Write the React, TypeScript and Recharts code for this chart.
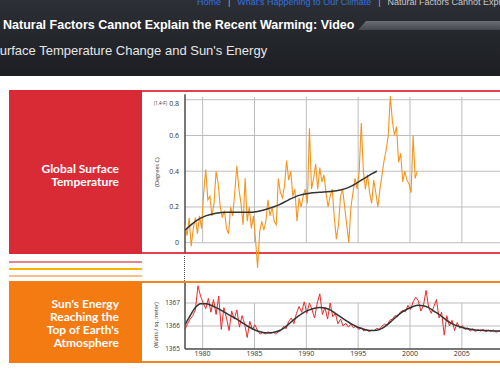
import { LineChart, Line, XAxis, YAxis, ReferenceLine } from "recharts";

// shared x axis (years)
const gridYears = [1980, 1985, 1990, 1995, 2000, 2005, 2010];
const tempTicks = [0, 0.2, 0.4, 0.6, 0.8];
const sunTicks = [1365, 1366, 1367];

// global surface temperature anomaly (deg C), one value every 0.2 yr from 1978.3
const tempStart = 1978.3;
const tempStep = 0.2;
const tempAnomaly = [
  0.10, 0.04, 0.14, -0.02, 0.08, 0.14, 0.05, 0.15, 0.08, 0.28,
  0.41, 0.24, 0.26, 0.15, 0.22, 0.40, 0.33, 0.20, 0.14, 0.18,
  0.08, 0.05, 0.20, 0.15, 0.28, 0.43, 0.30, 0.22, 0.10, 0.36,
  0.12, 0.20, 0.08, 0.15, 0.02, -0.14, 0.06, 0.12, 0.07, 0.12,
  0.24, 0.15, 0.20, 0.12, 0.10, 0.36, 0.28, 0.25, 0.32, 0.46,
  0.35, 0.40, 0.26, 0.30, 0.12, 0.25, 0.20, 0.26, 0.30, 0.22,
  0.64, 0.30, 0.36, 0.44, 0.30, 0.42, 0.34, 0.38, 0.28, 0.20,
  0.26, 0.30, 0.14, 0.02, 0.10, 0.26, 0.30, 0.20, 0.10, 0.00,
  0.20, 0.28, 0.36, 0.30, 0.40, 0.67, 0.40, 0.30, 0.38, 0.28,
  0.22, 0.35, 0.28, 0.20, 0.30, 0.38, 0.46, 0.52, 0.60, 0.82,
  0.68, 0.60, 0.65, 0.45, 0.50, 0.34, 0.40, 0.35, 0.33, 0.28,
  0.60, 0.36, 0.40,
];

// smoothed temperature trend
const tempTrendYears = [
  1978.3, 1979.3, 1980.3, 1981.3, 1982.3, 1983.3, 1984.3, 1985.3, 1986.3, 1987.3,
  1988.3, 1989.3, 1990.3, 1991.3, 1992.3, 1993.3, 1994.3, 1995.3, 1996.3, 1996.8,
];
const tempTrend = [
  0.07, 0.12, 0.15, 0.165, 0.17, 0.17, 0.17, 0.175, 0.19, 0.21,
  0.24, 0.265, 0.277, 0.282, 0.286, 0.295, 0.315, 0.35, 0.385, 0.40,
];

// total solar irradiance (W/m2), one value every 0.25 yr from 1978.3
const sunStart = 1978.3;
const sunStep = 0.25;
const sunIrradiance = [
  1365.85, 1366.1, 1366.3, 1366.45, 1366.7, 1367.75, 1367.3, 1367.0, 1366.75, 1367.2,
  1366.6, 1367.15, 1366.5, 1367.3, 1365.85, 1366.8, 1366.35, 1365.8, 1366.65, 1366.3,
  1366.7, 1365.95, 1366.45, 1366.1, 1365.5, 1366.2, 1365.85, 1366.05, 1365.8, 1365.65,
  1365.72, 1365.65, 1365.75, 1365.68, 1365.73, 1365.66, 1365.74, 1365.8, 1365.98, 1365.88,
  1366.2, 1366.35, 1366.1, 1366.55, 1366.85, 1366.6, 1367.05, 1366.55, 1367.0, 1366.7,
  1366.35, 1367.0, 1367.4, 1366.5, 1366.8, 1366.3, 1367.0, 1366.4, 1366.55, 1366.1,
  1366.3, 1366.0, 1366.12, 1365.95, 1366.08, 1365.92, 1366.0, 1365.85, 1365.92, 1365.78,
  1365.85, 1365.76, 1365.82, 1365.8, 1365.9, 1365.85, 1366.0, 1366.08, 1366.05, 1366.25,
  1366.3, 1366.45, 1366.4, 1366.6, 1366.68, 1366.62, 1366.9, 1366.72, 1367.05, 1367.25,
  1367.1, 1366.65, 1366.9, 1367.55, 1366.8, 1366.55, 1366.85, 1367.15, 1366.35, 1366.6,
  1365.6, 1366.45, 1366.0, 1366.25, 1365.8, 1366.15, 1365.9, 1366.02, 1365.85, 1365.92,
  1365.78, 1365.88, 1365.75, 1365.84, 1365.78, 1365.86, 1365.74, 1365.82, 1365.77, 1365.83,
  1365.72, 1365.8, 1365.75,
];

// smoothed solar cycle, every 0.5 yr from 1978.3
const sunTrendStep = 0.5;
const sunTrend = [
  1366.05, 1366.45, 1366.8, 1366.97, 1366.97, 1366.9, 1366.8, 1366.68, 1366.55, 1366.42,
  1366.3, 1366.15, 1366.0, 1365.88, 1365.78, 1365.72, 1365.7, 1365.72, 1365.78, 1365.9,
  1366.08, 1366.28, 1366.45, 1366.6, 1366.7, 1366.77, 1366.8, 1366.78, 1366.7, 1366.55,
  1366.4, 1366.25, 1366.1, 1365.98, 1365.9, 1365.83, 1365.8, 1365.82, 1365.9, 1366.05,
  1366.25, 1366.45, 1366.62, 1366.75, 1366.85, 1366.9, 1366.88, 1366.8, 1366.65, 1366.5,
  1366.33, 1366.17, 1366.05, 1365.97, 1365.9, 1365.86, 1365.83, 1365.81, 1365.8, 1365.79,
  1365.78, 1365.78,
];

const xDomain = [1978.3, 2010.8];

const tempRows = tempAnomaly.map((v, i) => ({ year: tempStart + i * tempStep, v }));
const tempTrendRows = tempTrend.map((v, i) => ({ year: tempTrendYears[i], v }));
const sunRows = sunIrradiance.map((v, i) => ({ year: sunStart + i * sunStep, v }));
const sunTrendRows = sunTrend.map((v, i) => ({ year: sunStart + i * sunTrendStep, v }));

const tickFont = { fontSize: 7, fill: "#333", fontFamily: "Open Sans" };
const gridColor = "#bdbdbd";
const axisColor = "#4a4a4a";

function TempTick({ x, y, payload }: any) {
  return (
    <g>
      <text x={x} y={y} dy={2.5} textAnchor="end" {...tickFont}>
        {payload.value}
      </text>
      {payload.value === 0.8 && (
        <text x={x - 12} y={y} dy={1.5} textAnchor="end" fontSize={4.5} fill="#333" fontFamily="Open Sans">
          (1.4ºF)
        </text>
      )}
    </g>
  );
}

const abs = (s: React.CSSProperties): React.CSSProperties => ({ position: "absolute", ...s });

const panelLabel: React.CSSProperties = {
  fontFamily: "Lato",
  fontWeight: 700,
  fontSize: 12,
  lineHeight: "12.8px",
  color: "#fff",
  textAlign: "right",
};

export default function App() {
  return (
    <div style={abs({ left: 0, top: 0, width: 500, height: 376, overflow: "hidden", background: "#fff", fontFamily: "'Liberation Sans', Arial, sans-serif" })}>
      {/* page header */}
      <div style={abs({ left: 0, top: 0, width: 500, height: 76, background: "linear-gradient(#2c2f35, #1c1e22)" })} />
      <div style={abs({ left: 197, top: -3, fontSize: 9, whiteSpace: "nowrap", lineHeight: "11px" })}>
        <span style={{ color: "#3470e0" }}>Home</span>
        <span style={{ color: "#aaa", margin: "0 7px" }}>|</span>
        <span style={{ color: "#3470e0" }}>What's Happening to Our Climate</span>
        <span style={{ color: "#aaa", margin: "0 7px" }}>|</span>
        <span style={{ color: "#c8c8c8" }}>Natural Factors Cannot Explain the Recent Warming: Video</span>
      </div>
      <div style={abs({ left: 358, top: 21, width: 142, height: 9, background: "linear-gradient(#6b6e74, #45484d)", clipPath: "polygon(8px 0, 100% 0, 100% 100%, 0 100%)" })} />
      <div style={abs({ left: 3, top: 17, fontSize: 12.5, fontWeight: 700, color: "#fff", whiteSpace: "nowrap", lineHeight: "16px" })}>
        Natural Factors Cannot Explain the Recent Warming: Video
      </div>
      <div style={abs({ left: -9, top: 42, fontSize: 13, color: "#e6e6e6", whiteSpace: "nowrap", lineHeight: "17px" })}>
        Surface Temperature Change and Sun's Energy
      </div>

      {/* temperature panel */}
      <div style={abs({ left: 9, top: 90, width: 491, height: 2, background: "#e0414b" })} />
      <div style={abs({ left: 9, top: 252, width: 491, height: 2, background: "#e0414b" })} />
      <div style={abs({ left: 9, top: 90, width: 133, height: 164, background: "#d92b36", display: "flex", flexDirection: "column", justifyContent: "center", alignItems: "flex-end", paddingRight: 23, paddingTop: 7, boxSizing: "border-box" })}>
        <div style={panelLabel}>Global Surface<br />Temperature</div>
      </div>

      {/* separator stripes */}
      <div style={abs({ left: 9, top: 260.5, width: 133, height: 2.3, background: "#e8848a" })} />
      <div style={abs({ left: 9, top: 267.7, width: 133, height: 2.3, background: "#f6b400" })} />
      <div style={abs({ left: 9, top: 274.5, width: 133, height: 2.3, background: "#f9bf8c" })} />
      <div style={abs({ left: 184.3, top: 256, height: 25, borderLeft: "1.5px dotted #555" })} />

      {/* sun panel */}
      <div style={abs({ left: 9, top: 281, width: 491, height: 2, background: "#f58220" })} />
      <div style={abs({ left: 9, top: 361, width: 491, height: 2, background: "#f58220" })} />
      <div style={abs({ left: 9, top: 282, width: 133, height: 81, background: "#f47a12", display: "flex", flexDirection: "column", justifyContent: "center", alignItems: "flex-end", paddingRight: 23, paddingTop: 3, boxSizing: "border-box" })}>
        <div style={panelLabel}>Sun's Energy<br />Reaching the<br />Top of Earth's<br />Atmosphere</div>
      </div>

      {/* axis titles */}
      <div style={abs({ left: 157, top: 172, transform: "translate(-50%, -50%) rotate(-90deg)", fontSize: 5.5, color: "#333", whiteSpace: "nowrap", fontFamily: "Open Sans" })}>
        (Degrees C)
      </div>
      <div style={abs({ left: 156, top: 325, transform: "translate(-50%, -50%) rotate(-90deg)", fontSize: 5.3, color: "#333", whiteSpace: "nowrap", fontFamily: "Open Sans" })}>
        (Watts / sq. meter)
      </div>

      {/* temperature chart */}
      <div style={abs({ left: 142, top: 94 })}>
        <LineChart width={380} height={180} margin={{ top: 0, right: 0, bottom: 0, left: 0 }}>
          <XAxis type="number" dataKey="year" domain={xDomain} allowDataOverflow hide />
          <YAxis
            type="number"
            domain={[-0.175, 0.832]}
            ticks={tempTicks}
            width={43}
            axisLine={false}
            tickLine={false}
            tickSize={0}
            tickMargin={6}
            tick={(p: any) => <TempTick {...p} />}
          />
          {tempTicks.map((v) => (
            <ReferenceLine key={v} y={v} stroke={gridColor} />
          ))}
          {gridYears.map((yr) => (
            <ReferenceLine key={yr} segment={[{ x: yr, y: 0 }, { x: yr, y: 0.815 }]} stroke={gridColor} />
          ))}
          <ReferenceLine segment={[{ x: 1978.3, y: 0.83 }, { x: 1978.3, y: -0.056 }]} stroke={axisColor} strokeWidth={1.5} />
          <Line data={tempRows} dataKey="v" type="linear" stroke="#f7941d" strokeWidth={1.1} dot={false} isAnimationActive={false} />
          <Line data={tempTrendRows} dataKey="v" type="monotone" stroke="#333" strokeWidth={1.5} dot={false} isAnimationActive={false} />
        </LineChart>
      </div>

      {/* solar chart */}
      <div style={abs({ left: 142, top: 283 })}>
        <LineChart width={380} height={80} margin={{ top: 0, right: 0, bottom: 0, left: 0 }}>
          <XAxis
            type="number"
            dataKey="year"
            domain={xDomain}
            allowDataOverflow
            ticks={gridYears}
            interval={0}
            height={14}
            axisLine={{ stroke: axisColor, strokeWidth: 1.5 }}
            tickLine={false}
            tickSize={0}
            tickMargin={2}
            tick={tickFont}
          />
          <YAxis
            type="number"
            domain={[1365, 1367.87]}
            allowDataOverflow
            ticks={sunTicks}
            width={43}
            axisLine={{ stroke: axisColor, strokeWidth: 1.5 }}
            tickLine={false}
            tickSize={0}
            tickMargin={5}
            tick={{ ...tickFont, fontSize: 6.5 }}
          />
          {sunTicks.slice(1).map((v) => (
            <ReferenceLine key={v} y={v} stroke={gridColor} />
          ))}
          {gridYears.map((yr) => (
            <ReferenceLine key={yr} segment={[{ x: yr, y: 1365 }, { x: yr, y: 1367 }]} stroke={gridColor} />
          ))}
          <Line data={sunRows} dataKey="v" type="linear" stroke="#ee2a2a" strokeWidth={1} dot={false} isAnimationActive={false} />
          <Line data={sunTrendRows} dataKey="v" type="monotone" stroke="#333" strokeWidth={1.5} dot={false} isAnimationActive={false} />
        </LineChart>
      </div>
    </div>
  );
}
